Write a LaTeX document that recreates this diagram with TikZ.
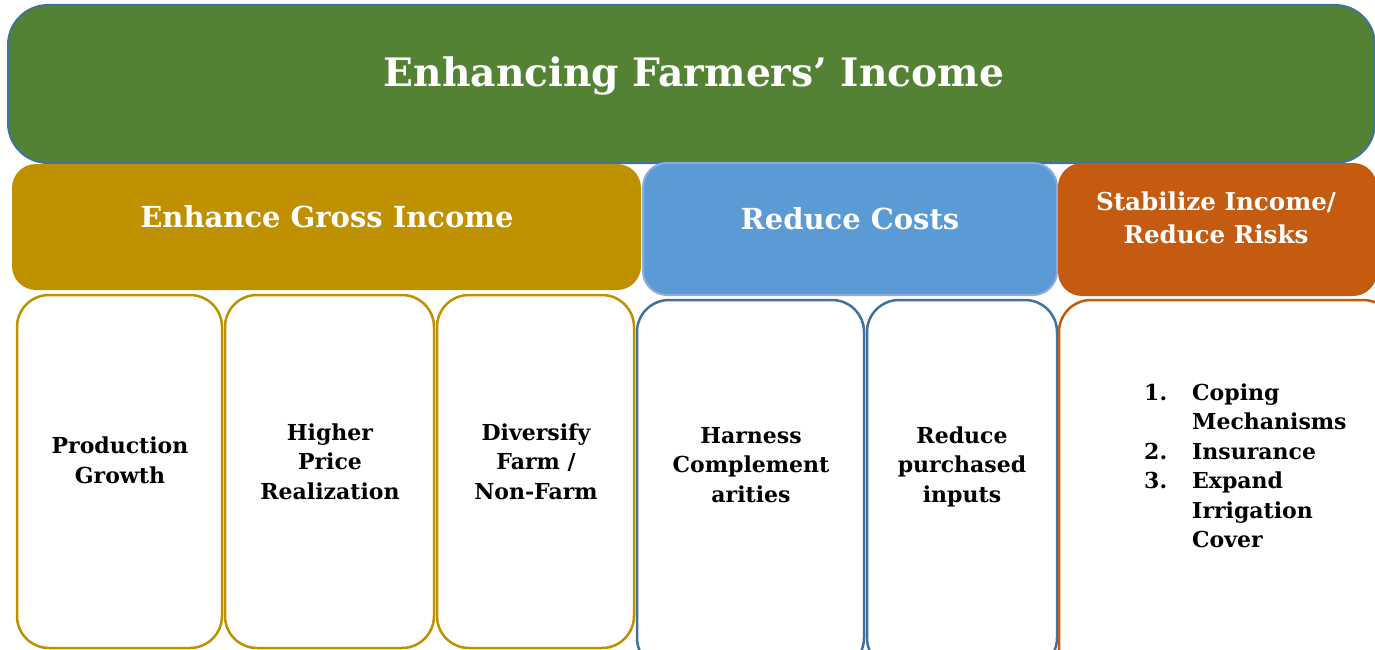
\documentclass[tikz,border=0pt]{standalone}
\usepackage{fontspec}
\setmainfont{DejaVu Serif}
\usetikzlibrary{positioning}
\definecolor{titlegreen}{RGB}{84,130,53}
\definecolor{titleedge}{RGB}{65,113,156}
\definecolor{grossgold}{RGB}{191,144,0}
\definecolor{costblue}{RGB}{91,155,213}
\definecolor{costedge}{RGB}{143,170,220}
\definecolor{riskorange}{RGB}{197,90,17}
\definecolor{edgeblue}{RGB}{65,113,156}
\tikzstyle{banner} = [rectangle, rounded corners=24pt, inner sep=0pt]
\tikzstyle{headtext} = [text=white, align=center, font=\bfseries\fontsize{29}{33}\selectfont, inner sep=0pt]
\tikzstyle{panel} = [rectangle, rounded corners=32pt, draw, line width=2.5pt, fill=white, inner sep=0pt]
\tikzstyle{paneltext} = [align=center, font=\bfseries\fontsize{22}{29.5}\selectfont, inner sep=0pt]

\begin{document}
\begin{tikzpicture}[x=1pt, y=-1pt]
\clip (0,0) rectangle (1375,650);

% Title
\node[banner, rounded corners=40pt, fill=titlegreen, draw=titleedge, line width=2pt, minimum width=1367pt, minimum height=158pt] (title) at (691.5,84) {};
\node[headtext, font=\bfseries\fontsize{39.2}{48}\selectfont, anchor=base] (titletext) at (694,87) {Enhancing Farmers’ Income};

% Three headings
\node[banner, fill=grossgold, minimum width=629pt, minimum height=126pt] (gross) at (326.5,227) {};
\node[headtext, anchor=base] (grosstext) at (327,227) {Enhance Gross Income};

\node[banner, fill=costblue, draw=costedge, line width=2pt, minimum width=414pt, minimum height=132pt] (costs) at (850,229) {};
\node[headtext, anchor=base] (coststext) at (850,229) {Reduce Costs};

\node[banner, fill=riskorange, minimum width=319pt, minimum height=133pt] (risks) at (1217.5,229.5) {};
\node[headtext, font=\bfseries\fontsize{24.6}{33}\selectfont, anchor=base] (riskstext) at (1216,243) {Stabilize Income/\\Reduce Risks};

% Gross income panels
\node[panel, draw=grossgold, minimum width=205pt, minimum height=353pt] (prod) at (119.5,471.5) {};
\node[panel, draw=grossgold, minimum width=209pt, minimum height=353pt] (price) at (329.5,471.5) {};
\node[panel, draw=grossgold, minimum width=197pt, minimum height=353pt] (divers) at (535.5,471.5) {};
\node[paneltext, anchor=base] (prodtext) at (120,483) {Production\\Growth};
\node[paneltext, anchor=base] (pricetext) at (330,499) {Higher\\Price\\Realization};
\node[paneltext, anchor=base] (diverstext) at (536,499) {Diversify\\Farm /\\Non-Farm};

% Cost panels
\node[panel, draw=edgeblue, minimum width=227pt, minimum height=370pt] (harness) at (750.5,485) {};
\node[panel, draw=edgeblue, minimum width=190pt, minimum height=370pt] (inputs) at (962,485) {};
\node[paneltext, anchor=base] (harnesstext) at (751,502) {Harness\\Complement\\arities};
\node[paneltext, anchor=base] (inputstext) at (962,502) {Reduce\\purchased\\inputs};

% Risk panel
\node[panel, draw=riskorange, minimum width=336pt, minimum height=380pt] (stabil) at (1227,490) {};
\node[paneltext, anchor=base west, align=left] (stabiltext) at (1144,400) {%
\begin{tabular}[t]{@{}p{48pt}@{}l@{}}
1. & Coping\\
   & Mechanisms\\
2. & Insurance\\
3. & Expand\\
   & Irrigation\\
   & Cover
\end{tabular}};

\end{tikzpicture}
\end{document}
